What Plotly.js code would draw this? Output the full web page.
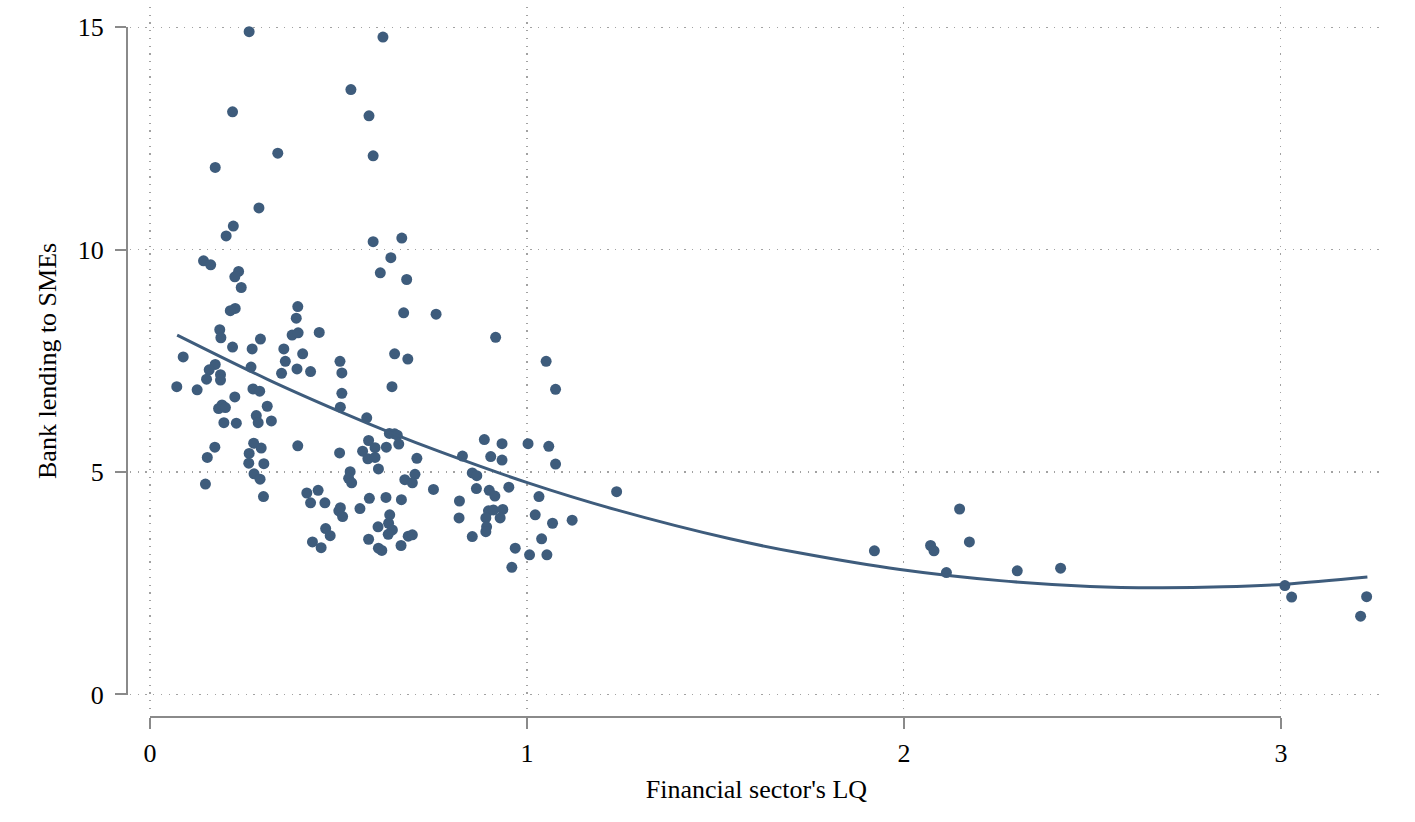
<!DOCTYPE html>
<html>
<head>
<meta charset="utf-8">
<script src="https://cdn.plot.ly/plotly-3.0.1.min.js"></script>
<style>
  html, body { margin: 0; padding: 0; background: #fff; }
  #plotter { width: 1415px; height: 822px; }
</style>
</head>
<body>
<div id="plotter"></div>
<script>
// financial sector location quotient (x) and bank lending to SMEs (y)
var lq = [
    0.263, 0.618, 0.533, 0.219, 0.581, 0.339, 0.592, 0.173, 0.289, 0.221,
    0.202, 0.592, 0.668, 0.142, 0.161, 0.639, 0.235, 0.225, 0.611, 0.681,
    0.242, 0.392, 0.226, 0.213, 0.388, 0.673, 0.759, 0.185, 0.188, 0.377,
    0.393, 0.449, 0.293, 0.219, 0.271, 0.355, 0.088, 0.405, 0.649, 0.684,
    0.359, 0.504, 0.173, 0.157, 0.268, 0.390, 0.426, 0.509, 0.349, 0.187,
    0.150, 0.187,
    0.071, 0.125, 0.273, 0.291, 0.642, 0.509, 0.225, 0.182, 0.191, 0.200,
    0.311, 0.505, 0.282, 0.287, 0.196, 0.229, 0.322, 0.575, 0.635, 0.649,
    0.656, 0.660, 0.172, 0.152, 0.275, 0.295, 0.263, 0.262, 0.302, 0.392,
    0.503, 0.580, 0.597, 0.564, 0.627, 0.578, 0.597, 0.708, 0.606, 0.147,
    0.276, 0.292, 0.301, 0.531, 0.527, 0.535, 0.676, 0.703, 0.696, 0.752,
    0.416, 0.446, 0.426, 0.464, 0.505, 0.501, 0.511, 0.557, 0.582, 0.626,
    0.667, 0.636, 0.633, 0.643, 0.632, 0.605, 0.466, 0.478, 0.685, 0.696,
    0.580, 0.431, 0.454, 0.606, 0.615, 0.666,
    0.917, 1.051, 1.076, 0.887, 0.934, 1.003, 1.058, 0.829, 0.904, 0.934,
    1.076, 0.855, 0.867, 0.866, 0.900, 0.915, 0.952, 1.032, 1.238, 0.821,
    0.898, 0.911, 0.936, 0.891, 0.929, 0.820, 1.022, 1.068, 1.120, 0.893,
    0.891, 0.855, 1.039, 0.969, 1.007, 1.053, 0.960,
    1.922, 2.071, 2.080, 2.148, 2.174, 2.113, 2.301, 2.416, 3.011, 3.029,
    3.228, 3.212
];
var lending = [
    14.90, 14.78, 13.60, 13.10, 13.01, 12.17, 12.11, 11.85, 10.94, 10.53,
    10.31, 10.18, 10.26, 9.75, 9.66, 9.82, 9.51, 9.39, 9.48, 9.33,
    9.15, 8.72, 8.68, 8.63, 8.46, 8.58, 8.55, 8.20, 8.02, 8.08,
    8.13, 8.14, 7.99, 7.81, 7.77, 7.77, 7.59, 7.66, 7.66, 7.54,
    7.49, 7.49, 7.42, 7.30, 7.36, 7.32, 7.26, 7.23, 7.22, 7.19,
    7.09, 7.07,
    6.92, 6.85, 6.87, 6.82, 6.92, 6.77, 6.69, 6.43, 6.51, 6.45,
    6.48, 6.46, 6.27, 6.11, 6.11, 6.10, 6.15, 6.22, 5.87, 5.86,
    5.83, 5.63, 5.56, 5.33, 5.65, 5.54, 5.42, 5.20, 5.19, 5.59,
    5.43, 5.71, 5.55, 5.47, 5.56, 5.30, 5.33, 5.31, 5.07, 4.73,
    4.96, 4.84, 4.45, 5.01, 4.86, 4.76, 4.83, 4.95, 4.76, 4.61,
    4.53, 4.59, 4.31, 4.31, 4.20, 4.13, 4.00, 4.18, 4.41, 4.43,
    4.38, 4.04, 3.85, 3.70, 3.60, 3.77, 3.73, 3.57, 3.56, 3.59,
    3.49, 3.43, 3.30, 3.29, 3.24, 3.35,
    8.03, 7.49, 6.86, 5.73, 5.64, 5.64, 5.58, 5.36, 5.35, 5.27,
    5.18, 4.98, 4.92, 4.63, 4.59, 4.46, 4.66, 4.45, 4.56, 4.35,
    4.13, 4.15, 4.16, 3.97, 3.97, 3.97, 4.04, 3.85, 3.92, 3.77,
    3.66, 3.55, 3.50, 3.29, 3.14, 3.14, 2.86,
    3.23, 3.35, 3.23, 4.17, 3.43, 2.74, 2.78, 2.84, 2.45, 2.19,
    2.20, 1.76
];

// quadratic fit line
var fitX = [0.072, 0.313, 0.504, 0.646, 0.769, 0.999, 1.238, 1.539, 1.725,
            1.990, 2.255, 2.494, 2.671, 2.848, 3.011, 3.230];
var fitY = [8.08, 7.08, 6.36, 5.86, 5.46, 4.77, 4.15, 3.50, 3.18,
            2.81, 2.56, 2.43, 2.40, 2.42, 2.48, 2.64];

var xTicks = [0, 1, 2, 3];
var yTicks = [0, 5, 10, 15];

var dotColor = '#3e5c7c';
var axisColor = '#8a8a8a';
var gridColor = '#a2a2a2';
var serif = 'Liberation Serif, Times New Roman, serif';

var points = {
    x: lq,
    y: lending,
    mode: 'markers',
    type: 'scatter',
    marker: { color: dotColor, size: 11 },
    hoverinfo: 'x+y',
    xaxis: 'x',
    yaxis: 'y'
};

var line = {
    x: fitX,
    y: fitY,
    mode: 'lines',
    type: 'scatter',
    line: { color: dotColor, width: 3, shape: 'spline', smoothing: 1 },
    hoverinfo: 'skip',
    xaxis: 'x',
    yaxis: 'y'
};

// empty traces so the offset axis lines get their own subplots
var xLineHolder = { x: [], y: [], type: 'scatter', mode: 'markers', xaxis: 'x2', yaxis: 'y2', hoverinfo: 'skip' };
var yLineHolder = { x: [], y: [], type: 'scatter', mode: 'markers', xaxis: 'x3', yaxis: 'y3', hoverinfo: 'skip' };

var tickFont = { family: serif, size: 26, color: '#000' };

var layout = {
    width: 1415,
    height: 822,
    showlegend: false,
    paper_bgcolor: '#fff',
    plot_bgcolor: 'rgba(0,0,0,0)',
    margin: { l: 128, r: 32, t: 7, b: 106 },
    font: { family: serif, size: 26, color: '#000' },
    xaxis: {
        domain: [0.0016, 1],
        range: [-0.0531, 3.2714],
        tickvals: xTicks,
        showticklabels: false,
        ticks: '',
        showline: false,
        zeroline: false,
        showgrid: true,
        gridcolor: gridColor,
        gridwidth: 1.3,
        griddash: '1.3px,6.4px',
        anchor: 'y',
        title: { text: "Financial sector's LQ", font: { family: serif, size: 26, color: '#000' }, standoff: 69 }
    },
    yaxis: {
        domain: [0.00846, 1],
        range: [-0.3485, 15.456],
        tickvals: yTicks,
        showticklabels: false,
        ticks: '',
        showline: false,
        zeroline: false,
        showgrid: true,
        gridcolor: gridColor,
        gridwidth: 1.3,
        griddash: '1.3px,6.4px',
        anchor: 'x'
    },
    xaxis2: {
        domain: [0.01753, 0.91873],
        range: [0, 3],
        anchor: 'y2',
        tickvals: xTicks,
        ticks: 'outside',
        ticklen: 11,
        tickwidth: 2,
        tickcolor: axisColor,
        showline: true,
        linecolor: axisColor,
        linewidth: 2,
        showgrid: false,
        zeroline: false,
        tickfont: tickFont,
        ticklabelstandoff: 2
    },
    yaxis2: {
        domain: [0, 0.002],
        range: [0, 1],
        anchor: 'x2',
        visible: false
    },
    yaxis3: {
        domain: [0.03032, 0.97137],
        range: [0, 15],
        anchor: 'x3',
        side: 'left',
        tickvals: yTicks,
        ticks: 'outside',
        ticklen: 11,
        tickwidth: 2,
        tickcolor: axisColor,
        showline: true,
        linecolor: axisColor,
        linewidth: 2,
        showgrid: false,
        zeroline: false,
        tickfont: tickFont,
        ticklabelstandoff: 6,
        title: { text: 'Bank lending to SMEs', font: { family: serif, size: 26, color: '#000' }, standoff: 14 }
    },
    xaxis3: {
        domain: [0, 0.002],
        range: [0, 1],
        anchor: 'y3',
        visible: false
    }
};

Plotly.newPlot('plotter', [points, line, xLineHolder, yLineHolder], layout, { displayModeBar: false, staticPlot: true });
</script>
</body>
</html>
